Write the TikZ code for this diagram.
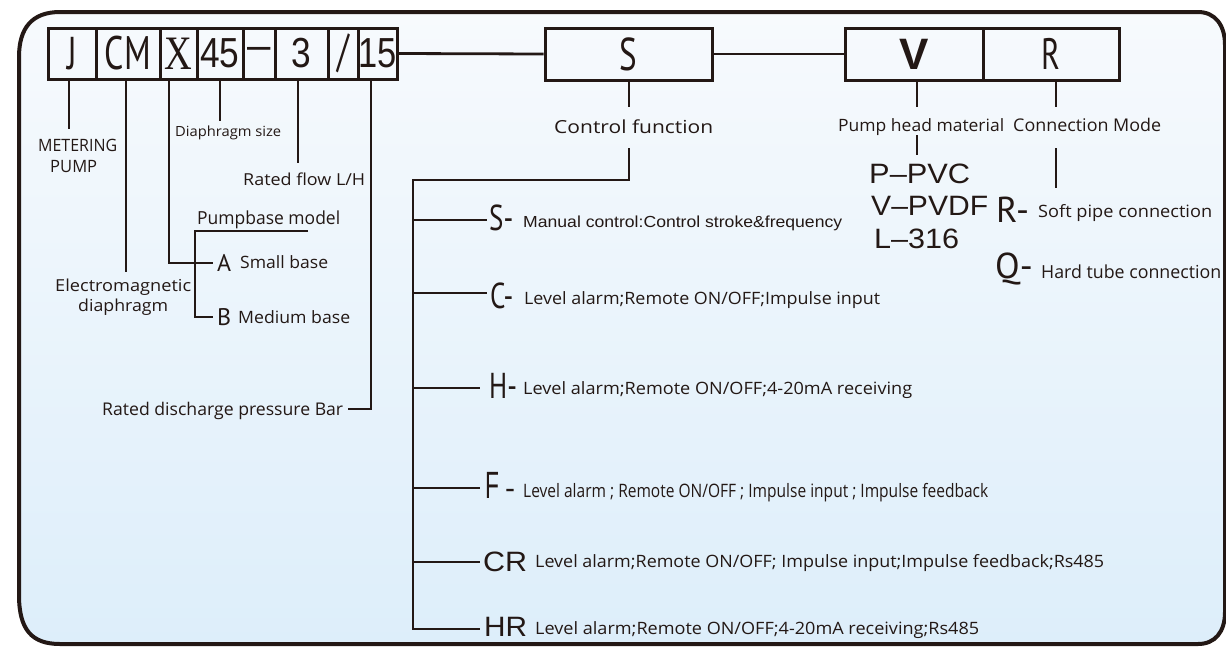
\documentclass[tikz,border=0pt]{standalone}
\usepackage{fontspec}
\usepackage{graphicx}
\setmainfont{Open Sans}
\newfontfamily\ptf{PT Sans}
\newfontfamily\arialf{Liberation Sans}
\newfontfamily\seriff{Liberation Serif}
\usetikzlibrary{calc}
\definecolor{ink}{RGB}{35,24,21}
\definecolor{bgtop}{RGB}{247,250,253}
\definecolor{bgbot}{RGB}{221,238,250}
\newcommand{\fs}[1]{\fontsize{#1}{#1}\selectfont}
\newcommand{\cnd}[2][0.72]{\scalebox{#1}[1]{#2}}
\newcommand{\fw}[2]{\resizebox{#1pt}{\height}{#2}}
\begin{document}
\begin{tikzpicture}[x=1pt,y=-1pt,
  every node/.style={text=ink, inner sep=0pt},
  cell/.style={draw=ink, line width=3pt, inner sep=0pt, minimum height=51},
  bigcell/.style={draw=ink, line width=3pt, inner sep=0pt, minimum height=52},
  conn/.style={draw=ink, line width=2.8pt},
  frame/.style={draw=ink, line width=4pt},
  lbl/.style={font=\fs{17}},
  key/.style={font=\ptf\fs{36}},
  arl/.style={font=\arialf\fs{28}}]
\useasboundingbox (0,0) rectangle (1226,646);
% background frame
\path[top color=bgtop, bottom color=bgbot]
  (19,57) .. controls (19,28) and (32,12) .. (60,12) -- (1198,12)
  .. controls (1215,12) and (1225,25) .. (1225,45) -- (1225,612)
  .. controls (1225,632) and (1215,644) .. (1198,644) -- (60,644)
  .. controls (32,644) and (19,630) .. (19,595) -- cycle;
\path[frame]
  (19,57) .. controls (19,28) and (32,12) .. (60,12) -- (1198,12)
  .. controls (1215,12) and (1225,25) .. (1225,45) -- (1225,612)
  .. controls (1225,632) and (1215,644) .. (1198,644) -- (60,644)
  .. controls (32,644) and (19,630) .. (19,595) -- cycle;

% top code boxes
\node[cell, minimum width=48] (cJ)  at (72,53.5)    {\cnd{\ptf\fs{46}J}};
\node[cell, minimum width=64] (cCM) at (128,53.5)   {\cnd{\ptf\fs{47}CM}};
\node[cell, minimum width=37] (cX)  at (178.5,53.5) {\cnd[0.8]{\seriff\fs{48}X}};
\node[cell, minimum width=46] (c45) at (220,53.5)   {\cnd[0.84]{\arialf\fs{42}45}};
\node[cell, minimum width=32] (cD)  at (259,53.5)   {\arialf\fs{42}–};
\node[cell, minimum width=53] (c3)  at (301.5,53.5) {\cnd[0.84]{\arialf\fs{42}3}};
\node[cell, minimum width=30] (cSl) at (343,53.5)   {\cnd{\ptf\fs{46}/}};
\node[cell, minimum width=39] (c15) at (377.5,53.5) {\cnd[0.82]{\arialf\fs{42}15}};
\node[bigcell, minimum width=167] (cS) at (628.5,54) {\cnd{\ptf\fs{46}S}};
\node[bigcell, minimum width=138] (cV) at (914,54)   {\arialf\bfseries\fs{44}V};
\node[bigcell, minimum width=136] (cR) at (1051,54)  {\cnd{\ptf\fs{44}R}};
\draw[conn] (c15.east) -- (cS.west);
\draw[conn] (cS.east) -- (cV.west);

% J
\node[lbl, anchor=base west] (met1) at (38,151) {\fw{79}{METERING}};
\node[lbl, anchor=base west] (met2) at (50,172) {\fw{47}{PUMP}};
\coordinate (jE) at (69,129);
\draw[conn] (cJ.south -| jE) -- (jE);
% CM
\node[font=\fs{16.5}, anchor=base west] (em1) at (55,291) {\fw{136}{Electromagnetic}};
\node[font=\fs{16.5}, anchor=base west] (em2) at (78,311) {\fw{90}{diaphragm}};
\coordinate (cmE) at (126,272);
\draw[conn] (cCM.south -| cmE) -- (cmE);
% X / pump base
\node[font=\fs{18}, anchor=base west] (pbm) at (197,224) {\fw{143}{Pumpbase model}};
\node[font=\ptf\fs{24}, anchor=base west] (lA) at (217,271) {A};
\node[lbl, anchor=base west] (tA) at (240,268) {\fw{88}{Small base}};
\node[font=\ptf\fs{24}, anchor=base west] (lB) at (217,325) {B};
\node[lbl, anchor=base west] (tB) at (238,323) {\fw{112}{Medium base}};
\coordinate (xT) at (169,263);
\draw[conn] (cX.south -| xT) -- (xT) -- ($(xT -| lA.west)+(-4,0)$);
\coordinate (pbE) at (308,231);
\coordinate (brk) at (195,317);
\draw[conn] (pbE) -| (brk) -- ($(brk -| lB.west)+(-4,0)$);
% 45
\node[font=\fs{14}, anchor=base west] (dsz) at (175,136) {\fw{106}{Diaphragm size}};
\coordinate (d45) at (220,121);
\draw[conn] (c45.south -| d45) -- (d45);
% 3
\node[font=\fs{16.5}, anchor=base west] (rfl) at (243,185) {\fw{122}{Rated flow L/H}};
\coordinate (d3) at (298,163);
\draw[conn] (c3.south -| d3) -- (d3);
% 15
\node[font=\fs{17.5}, anchor=base west] (rdp) at (102,415) {\fw{241}{Rated discharge pressure Bar}};
\coordinate (d15) at (371,409);
\draw[conn] (c15.south -| d15) -- (d15) -- ($(d15 -| rdp.east)+(5,0)$);

% S control function
\node[font=\fs{18}, anchor=base west] (cf) at (554,133) {\fw{159}{Control function}};
\coordinate (sA) at (629,107);
\draw[conn] (cS.south -| sA) -- (sA);
\coordinate (cfB) at (629,148);
\coordinate (trT) at (413,180);
\coordinate (trB) at (413,629);
\node[key, anchor=base west] (kS) at (489,230) {\cnd[0.75]{S-}};
\node[font=\arialf\fs{16}, anchor=base west] (tS) at (523,227) {\fw{319}{Manual control:Control stroke\&frequency}};
\node[key, anchor=base west] (kC) at (490,308) {\cnd[0.75]{C-}};
\node[lbl, anchor=base west] (tC) at (524,304) {\fw{356}{Level alarm;Remote ON/OFF;Impulse input}};
\node[key, anchor=base west] (kH) at (489,398) {\cnd[0.75]{H-}};
\node[lbl, anchor=base west] (tH) at (523,394) {\fw{389}{Level alarm;Remote ON/OFF;4-20mA receiving}};
\node[anchor=base west] (kF) at (485,498) {\cnd[0.6]{\arialf\fs{38}F}\hspace{6pt}{\arialf\fs{30}-}};
\node[font=\fs{18.5}, anchor=base west] (tF) at (523,497) {\fw{465}{Level alarm ; Remote ON/OFF ; Impulse input ; Impulse feedback}};
\node[arl, anchor=base west] (kCR) at (483,571) {\fw{44}{CR}};
\node[lbl, anchor=base west] (tCR) at (535,567) {\fw{569}{Level alarm;Remote ON/OFF; Impulse input;Impulse feedback;Rs485}};
\node[arl, anchor=base west] (kHR) at (484,636) {\fw{43}{HR}};
\node[lbl, anchor=base west] (tHR) at (535,634) {\fw{444}{Level alarm;Remote ON/OFF;4-20mA receiving;Rs485}};
\draw[conn] (cfB) |- (trT) -- (trB) -- ($(trB -| kHR.west)+(-4,0)$);
\coordinate (bS) at (413,220);
\coordinate (bC) at (413,293);
\coordinate (bH) at (413,388);
\coordinate (bF) at (413,488);
\coordinate (bCR) at (413,562);
\draw[conn] (bS) -- ($(bS -| kS.west)+(-2,0)$);
\draw[conn] (bC) -- ($(bC -| kC.west)+(-3,0)$);
\draw[conn] (bH) -- ($(bH -| kH.west)+(-9,0)$);
\draw[conn] (bF) -- ($(bF -| kF.west)+(-5,0)$);
\draw[conn] (bCR) -- ($(bCR -| kCR.west)+(-3,0)$);

% V pump head material
\node[lbl, anchor=base west] (phm) at (838,131) {\fw{166}{Pump head material}};
\coordinate (vA) at (917,107);
\draw[conn] (cV.south -| vA) -- (vA);
\coordinate (vB1) at (917,135);
\coordinate (vB2) at (917,155);
\draw[conn] (vB1) -- (vB2);
\node[arl, anchor=base west] (mP) at (869,183) {\fw{101}{P–PVC}};
\node[arl, anchor=base west] (mV) at (871,215) {\fw{117}{V–PVDF}};
\node[arl, anchor=base west] (mL) at (874,248) {\fw{85}{L–316}};

% R connection mode
\node[font=\fs{17.5}, anchor=base west] (cmo) at (1013,131) {\fw{148}{Connection Mode}};
\coordinate (rA) at (1056,107);
\draw[conn] (cR.south -| rA) -- (rA);
\coordinate (rB1) at (1056,148);
\coordinate (rB2) at (1056,188);
\draw[conn] (rB1) -- (rB2);
\node[key, anchor=base west] (kR) at (996,222) {R-};
\node[lbl, anchor=base west] (tR) at (1038,217) {\fw{174}{Soft pipe connection}};
\node[key, anchor=base west] (kQ) at (995,278) {Q-};
\node[font=\fs{18}, anchor=base west] (tQ) at (1041,278) {\fw{180}{Hard tube connection}};
\end{tikzpicture}
\end{document}
